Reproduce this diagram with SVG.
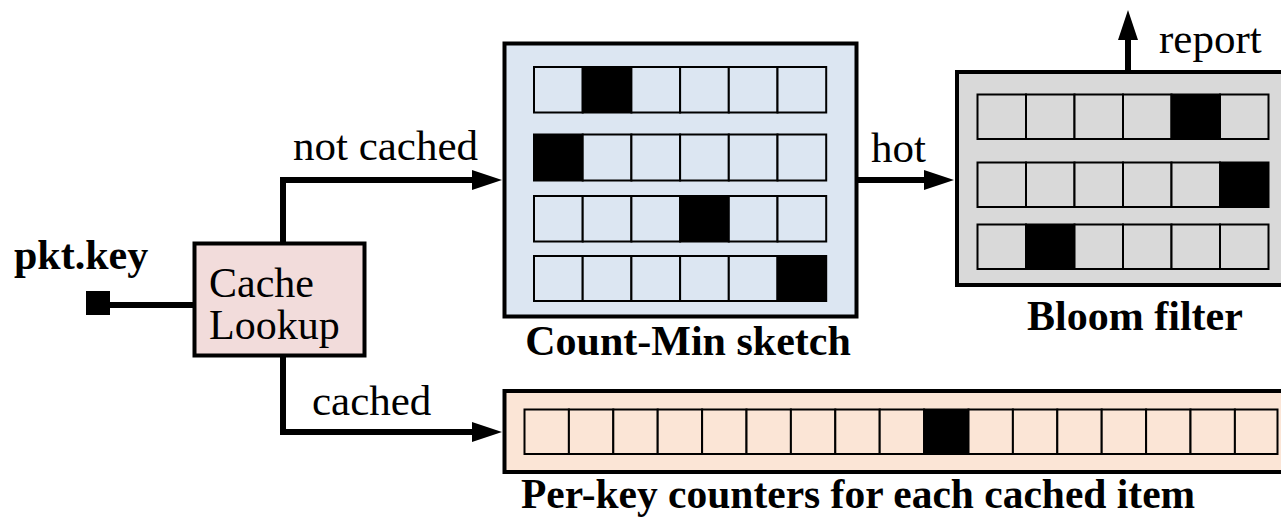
<svg xmlns="http://www.w3.org/2000/svg" width="1281" height="520" viewBox="0 0 1281 520">
<defs>
<style>
.box{stroke:#000;stroke-width:4}
.cell{stroke:#000;stroke-width:2}
.on{fill:#000}
.conn{fill:none;stroke:#000;stroke-width:6}
.lbl{font-family:"Liberation Serif","Times New Roman",serif;font-size:43px;fill:#000}
.bold{font-family:"Liberation Serif","Times New Roman",serif;font-size:42px;font-weight:bold;fill:#000}
</style>
<marker id="arr" markerUnits="userSpaceOnUse" markerWidth="31" markerHeight="21" refX="0" refY="10" orient="auto" viewBox="0 0 31 21">
<path d="M0,0 L30,10 L0,20 Z" fill="#000"/>
</marker>
</defs>
<rect width="1281" height="520" fill="#fff"/>

<g id="connectors">
<rect x="86" y="291" width="24" height="24" fill="#000"/>
<line class="conn" x1="108" y1="305" x2="194" y2="305"/>
<path class="conn" d="M283,243 L283,180 L472,180" marker-end="url(#arr)"/>
<path class="conn" d="M283,356 L283,432 L472,432" marker-end="url(#arr)"/>
<path class="conn" d="M857,180 L924,180" marker-end="url(#arr)"/>
<path class="conn" d="M1128,72 L1128,40" marker-end="url(#arr)"/>
<text class="lbl" x="293" y="160">not cached</text>
<text class="lbl" x="312" y="415">cached</text>
<text class="lbl" x="871" y="162">hot</text>
<text class="lbl" x="1159" y="53">report</text>
<text class="bold" x="14" y="269">pkt.key</text>
</g>

<g id="cache-lookup">
<rect class="box" x="194.5" y="243.5" width="170" height="112" fill="#f2dcdb"/>
<text class="lbl" x="209" y="297" style="font-size:42px">Cache</text>
<text class="lbl" x="209" y="339" style="font-size:42px">Lookup</text>
</g>

<g id="count-min">
<rect class="box" x="504.5" y="43.5" width="352" height="273" fill="#dce6f2"/>
<g fill="#dce6f2">
<g transform="translate(534,67)">
<rect class="cell" x="0" y="0" width="48.7" height="45.5"/><rect class="cell on" x="48.7" y="0" width="48.7" height="45.5"/><rect class="cell" x="97.4" y="0" width="48.7" height="45.5"/><rect class="cell" x="146.1" y="0" width="48.7" height="45.5"/><rect class="cell" x="194.8" y="0" width="48.7" height="45.5"/><rect class="cell" x="243.5" y="0" width="48.7" height="45.5"/>
</g>
<g transform="translate(534,134.5)">
<rect class="cell on" x="0" y="0" width="48.7" height="46"/><rect class="cell" x="48.7" y="0" width="48.7" height="46"/><rect class="cell" x="97.4" y="0" width="48.7" height="46"/><rect class="cell" x="146.1" y="0" width="48.7" height="46"/><rect class="cell" x="194.8" y="0" width="48.7" height="46"/><rect class="cell" x="243.5" y="0" width="48.7" height="46"/>
</g>
<g transform="translate(534,196)">
<rect class="cell" x="0" y="0" width="48.7" height="45.5"/><rect class="cell" x="48.7" y="0" width="48.7" height="45.5"/><rect class="cell" x="97.4" y="0" width="48.7" height="45.5"/><rect class="cell on" x="146.1" y="0" width="48.7" height="45.5"/><rect class="cell" x="194.8" y="0" width="48.7" height="45.5"/><rect class="cell" x="243.5" y="0" width="48.7" height="45.5"/>
</g>
<g transform="translate(534,256)">
<rect class="cell" x="0" y="0" width="48.7" height="45"/><rect class="cell" x="48.7" y="0" width="48.7" height="45"/><rect class="cell" x="97.4" y="0" width="48.7" height="45"/><rect class="cell" x="146.1" y="0" width="48.7" height="45"/><rect class="cell" x="194.8" y="0" width="48.7" height="45"/><rect class="cell on" x="243.5" y="0" width="48.7" height="45"/>
</g>
</g>
<text class="bold" x="688" y="355" text-anchor="middle">Count-Min sketch</text>
</g>

<g id="bloom-filter">
<rect class="box" x="957" y="72" width="340" height="213" fill="#d9d9d9"/>
<g fill="#d9d9d9">
<g transform="translate(977.5,94.5)">
<rect class="cell" x="0" y="0" width="48.5" height="44.5"/><rect class="cell" x="48.5" y="0" width="48.5" height="44.5"/><rect class="cell" x="97" y="0" width="48.5" height="44.5"/><rect class="cell" x="145.5" y="0" width="48.5" height="44.5"/><rect class="cell on" x="194" y="0" width="48.5" height="44.5"/><rect class="cell" x="242.5" y="0" width="48.5" height="44.5"/>
</g>
<g transform="translate(977.5,162.5)">
<rect class="cell" x="0" y="0" width="48.5" height="44.5"/><rect class="cell" x="48.5" y="0" width="48.5" height="44.5"/><rect class="cell" x="97" y="0" width="48.5" height="44.5"/><rect class="cell" x="145.5" y="0" width="48.5" height="44.5"/><rect class="cell" x="194" y="0" width="48.5" height="44.5"/><rect class="cell on" x="242.5" y="0" width="48.5" height="44.5"/>
</g>
<g transform="translate(977.5,224.5)">
<rect class="cell" x="0" y="0" width="48.5" height="44.5"/><rect class="cell on" x="48.5" y="0" width="48.5" height="44.5"/><rect class="cell" x="97" y="0" width="48.5" height="44.5"/><rect class="cell" x="145.5" y="0" width="48.5" height="44.5"/><rect class="cell" x="194" y="0" width="48.5" height="44.5"/><rect class="cell" x="242.5" y="0" width="48.5" height="44.5"/>
</g>
</g>
<text class="bold" x="1135" y="330" text-anchor="middle">Bloom filter</text>
</g>

<g id="per-key-counters">
<rect class="box" x="504.5" y="391" width="800" height="81" fill="#fbe5d6"/>
<g fill="#fbe5d6" transform="translate(524.5,409.5)">
<rect class="cell" x="0" y="0" width="44.4" height="44.5"/>
<rect class="cell" x="44.4" y="0" width="44.4" height="44.5"/>
<rect class="cell" x="88.8" y="0" width="44.4" height="44.5"/>
<rect class="cell" x="133.2" y="0" width="44.4" height="44.5"/>
<rect class="cell" x="177.6" y="0" width="44.4" height="44.5"/>
<rect class="cell" x="222" y="0" width="44.4" height="44.5"/>
<rect class="cell" x="266.4" y="0" width="44.4" height="44.5"/>
<rect class="cell" x="310.8" y="0" width="44.4" height="44.5"/>
<rect class="cell" x="355.2" y="0" width="44.4" height="44.5"/>
<rect class="cell on" x="399.6" y="0" width="44.4" height="44.5"/>
<rect class="cell" x="444" y="0" width="44.4" height="44.5"/>
<rect class="cell" x="488.4" y="0" width="44.4" height="44.5"/>
<rect class="cell" x="532.8" y="0" width="44.4" height="44.5"/>
<rect class="cell" x="577.2" y="0" width="44.4" height="44.5"/>
<rect class="cell" x="621.6" y="0" width="44.4" height="44.5"/>
<rect class="cell" x="666" y="0" width="44.4" height="44.5"/>
<rect class="cell" x="710.4" y="0" width="42.6" height="44.5"/>
</g>
<text class="bold" x="521" y="508" style="font-size:41.5px">Per-key counters for each cached item</text>
</g>
</svg>
